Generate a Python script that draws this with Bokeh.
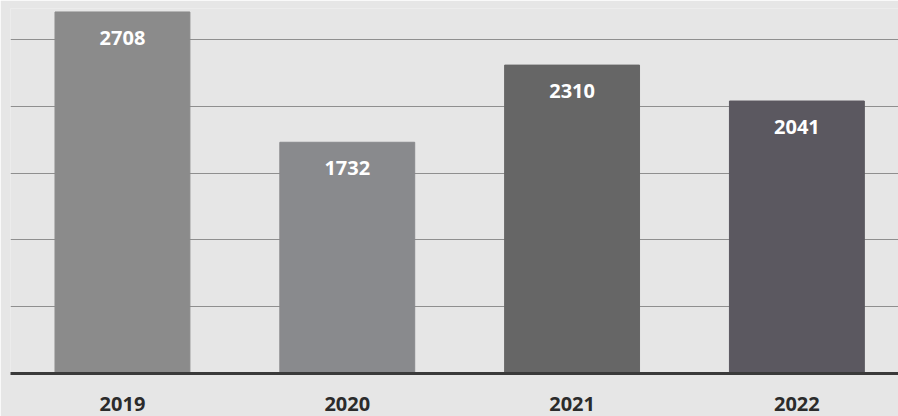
from bokeh.plotting import figure
from bokeh.models import Range1d, FixedTicker, ColumnDataSource
from bokeh.core.properties import value
from bokeh.embed import file_html
from bokeh.resources import INLINE

years = ["2019", "2020", "2021", "2022"]
counts = [2708, 1732, 2310, 2041]
bar_colors = ["#8b8b8b", "#898a8d", "#666666", "#5b5860"]
grid_ticks = [500, 1000, 1500, 2000, 2500]

xs = list(range(len(years)))
src = ColumnDataSource(dict(x=xs, top=counts, color=bar_colors,
                            label=[str(c) for c in counts]))

p = figure(width=898, height=416, output_backend="svg", toolbar_location=None,
           x_range=Range1d(-0.498, 3.452), y_range=Range1d(0, 2734),
           min_border_left=10, min_border_right=0, min_border_top=8,
           min_border_bottom=43)
p.background_fill_color = "#e6e6e6"
p.border_fill_color = "#e6e6e6"
p.outline_line_color = None

p.vbar(x="x", top="top", width=0.6, color="color", source=src)
p.text(x="x", y="top", text="label", source=src, y_offset=26,
       text_align="center", text_baseline="middle", text_color="white",
       text_font=value("Open Sans"), text_font_style="bold",
       text_font_size="20px")

p.yaxis.visible = False
p.ygrid.ticker = FixedTicker(ticks=grid_ticks)
p.ygrid.grid_line_color = "#8f8f8f"
p.ygrid.grid_line_width = 1
p.xgrid.visible = False

xa = p.xaxis[0]
xa.ticker = FixedTicker(ticks=xs)
xa.major_label_overrides = {i: y for i, y in zip(xs, years)}
xa.major_tick_line_color = None
xa.minor_tick_line_color = None
xa.axis_line_color = "#3a3a3a"
xa.axis_line_width = 3
xa.major_label_standoff = 17
xa.major_label_text_font = "Open Sans"
xa.major_label_text_font_style = "bold"
xa.major_label_text_font_size = "20px"
xa.major_label_text_color = "#2b2b2b"

open("out.html", "w").write(file_html(p, INLINE))
